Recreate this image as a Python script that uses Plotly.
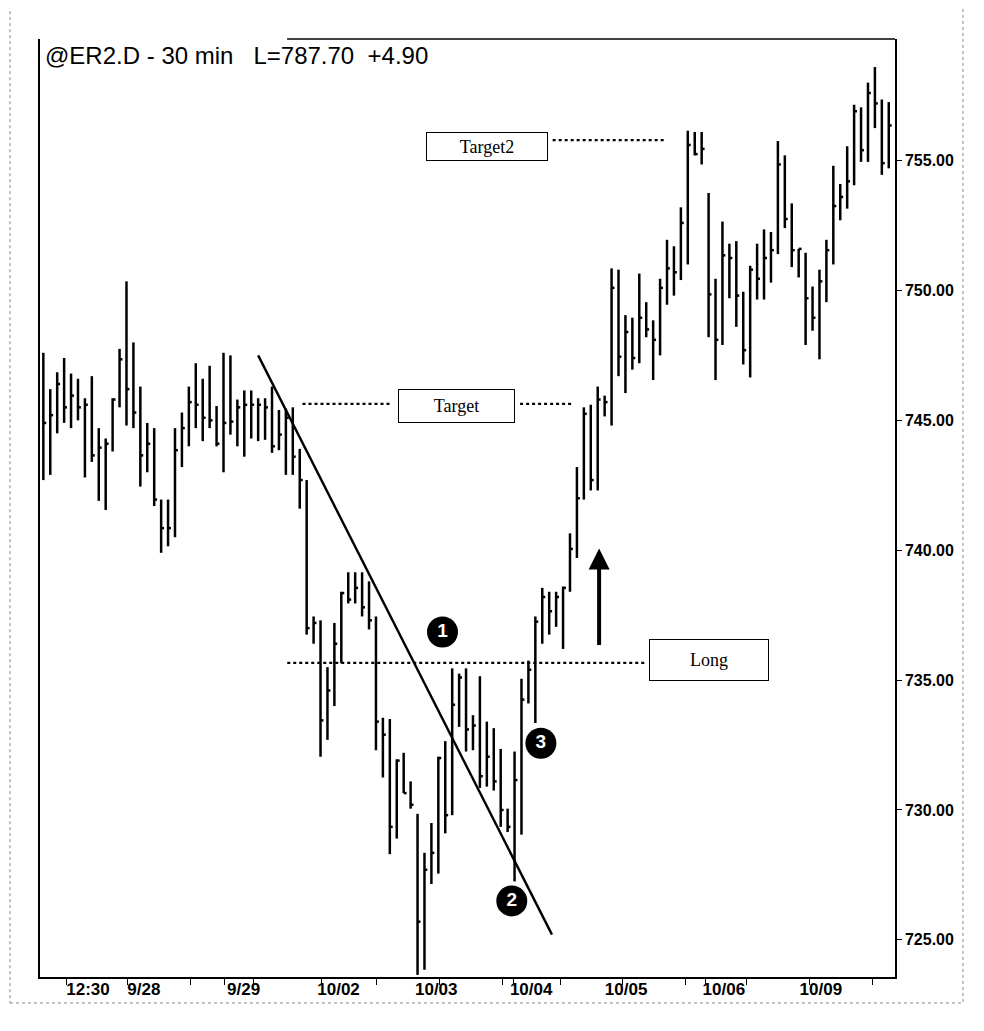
import plotly.graph_objects as go

# 30-min bars (index = bar number)
high = [747.6, 746.2, 746.85, 747.4, 746.8, 746.6, 745.85, 746.7, 744.7, 744.3,
        745.85, 747.75, 750.35, 748.0, 746.3, 744.9, 744.7, 741.95, 741.95, 744.7,
        745.3, 746.3, 747.2, 746.6, 747.1, 745.55, 747.6, 747.5, 745.8, 746.15,
        746.15, 745.85, 745.85, 746.3, 745.4, 745.45, 745.5, 743.9, 742.7, 737.45,
        737.3, 735.5, 737.2, 738.4, 739.15, 739.15, 739.15, 738.8, 737.45, 733.55,
        733.5, 731.95, 732.2, 731.1, 729.85, 728.35, 729.5, 732.05, 732.65, 735.45,
        735.25, 735.45, 733.65, 735.15, 733.4, 733.15, 732.35, 730.05, 732.25, 735.05,
        735.75, 737.45, 738.55, 738.4, 738.4, 738.6, 740.65, 743.2, 745.5, 745.6,
        746.3, 745.95, 750.85, 750.8, 749.05, 748.95, 750.65, 749.55, 748.85, 750.45,
        751.95, 751.7, 753.2, 756.15, 756.1, 756.1, 753.75, 750.45, 752.65, 751.8,
        751.9, 749.95, 750.95, 751.8, 752.35, 752.25, 755.75, 755.2, 753.35, 751.6,
        751.45, 750.15, 750.8, 751.95, 754.8, 754.1, 755.55, 757.15, 757.05, 758.0,
        758.6, 757.35, 757.25]
low = [742.7, 742.9, 744.5, 744.9, 744.7, 745.0, 742.8, 743.4, 741.9, 741.55,
       743.8, 745.5, 744.8, 744.7, 742.45, 743.0, 741.7, 739.9, 740.15, 740.5,
       743.2, 744.0, 744.7, 744.2, 744.7, 744.0, 743.0, 744.45, 744.0, 743.6,
       744.3, 744.2, 744.25, 743.75, 743.85, 742.9, 742.9, 741.6, 736.75, 736.4,
       732.05, 732.7, 734.0, 735.65, 737.95, 737.95, 737.45, 736.95, 732.3, 731.25,
       728.3, 728.9, 730.65, 730.05, 723.65, 723.85, 727.15, 727.55, 729.1, 729.8,
       733.2, 732.25, 732.3, 730.85, 730.9, 730.75, 729.35, 729.15, 727.25, 729.05,
       734.1, 733.35, 736.4, 736.75, 737.05, 736.2, 738.4, 739.7, 741.95, 742.3,
       742.3, 745.15, 744.8, 746.7, 746.05, 746.95, 747.2, 748.2, 746.55, 747.5,
       749.45, 749.8, 750.4, 751.0, 755.2, 754.85, 748.2, 746.55, 747.9, 749.7,
       748.6, 747.15, 746.65, 749.65, 749.65, 750.3, 751.4, 752.4, 750.9, 750.5,
       747.9, 748.45, 747.35, 749.55, 751.0, 752.7, 753.15, 754.05, 754.95, 754.95,
       756.25, 754.45, 754.7]
close = [744.9, 745.2, 746.4, 745.5, 745.95, 745.5, 745.6, 743.65, 743.95, 744.1,
         745.8, 747.35, 746.2, 745.3, 743.65, 744.1, 741.95, 740.85, 740.85, 743.85,
         744.7, 745.7, 745.6, 745.1, 745.0, 744.1, 744.9, 744.95, 745.5, 745.6,
         745.6, 745.6, 745.5, 744.0, 744.45, 745.1, 743.6, 742.7, 737.0, 737.2,
         733.45, 734.6, 736.4, 738.35, 738.1, 738.55, 737.8, 737.3, 733.4, 732.9,
         729.35, 731.9, 730.65, 730.2, 725.7, 727.7, 728.35, 732.0, 729.8, 734.05,
         735.1, 733.1, 733.25, 731.3, 732.05, 731.1, 730.0, 729.35, 731.15, 734.25,
         735.4, 737.25, 738.2, 737.65, 738.2, 738.55, 740.05, 742.0, 745.25, 742.7,
         745.8, 745.7, 750.1, 747.45, 748.4, 747.4, 748.95, 748.5, 748.1, 750.1,
         750.85, 750.7, 752.6, 755.6, 755.25, 755.45, 749.85, 748.1, 751.35, 751.25,
         749.8, 747.7, 750.8, 750.45, 751.25, 751.55, 754.85, 752.75, 751.55, 751.6,
         749.7, 748.95, 750.35, 751.55, 753.25, 753.6, 754.2, 756.9, 755.4, 757.6,
         757.2, 754.9, 756.35]

# x axis: tick marks and date labels (bar-index positions)
tick_marks = [3.3, 12.2, 21.3, 26.2, 30.3, 40.1, 48.1, 57.1, 66.2, 67.9,
              74.6, 83.6, 92.7, 95.5, 101.5, 110.6, 119.6]
date_pos = [6.45, 14.5, 28.9, 42.6, 56.7, 70.4, 84.1, 98.2, 112.2]
date_labels = ["12:30", "9/28", "9/29", "10/02", "10/03", "10/04", "10/05", "10/06", "10/09"]
price_ticks = [725, 730, 735, 740, 745, 750, 755]

# chart markup
trend_x = [31.0, 73.4]
trend_y = [747.5, 725.2]
level_long = 735.66
level_target = 745.63
level_target2 = 755.79
circle_x = [57.6, 67.6, 71.8]
circle_y = [736.85, 726.5, 732.57]
circle_txt = ["1", "2", "3"]

# build HLC bar path: vertical high-low line + close tick to the right
px, py = [], []
for i in range(len(high)):
  px += [i, i, None, i, i + 0.42, None]
  py += [low[i], high[i], None, close[i], close[i], None]

fig = go.Figure()
fig.add_trace(go.Scatter(x=px, y=py, mode="lines", line=dict(color="black", width=2.5),
                         hoverinfo="skip", showlegend=False))
fig.add_trace(go.Scatter(x=trend_x, y=trend_y, mode="lines", line=dict(color="black", width=2.4),
                         showlegend=False))
fig.add_trace(go.Scatter(x=circle_x, y=circle_y, mode="markers+text", text=circle_txt,
                         textposition="middle center",
                         textfont=dict(family="Arial", size=19, color="white", weight="bold"),
                         marker=dict(size=31, color="black"), showlegend=False))
# dummy trace on the label axis
fig.add_trace(go.Scatter(x=[0], y=[740], xaxis="x2", mode="markers",
                         marker=dict(opacity=0), showlegend=False, hoverinfo="skip"))

dotted = dict(color="black", width=2.3, dash="dot")
fig.add_shape(type="line", x0=35.2, x1=86.9, y0=level_long, y1=level_long, line=dotted)
fig.add_shape(type="line", x0=37.4, x1=50.3, y0=level_target, y1=level_target, line=dotted)
fig.add_shape(type="line", x0=68.8, x1=76.4, y0=level_target, y1=level_target, line=dotted)
fig.add_shape(type="line", x0=73.5, x1=89.7, y0=level_target2, y1=level_target2, line=dotted)

box = dict(showarrow=False, bgcolor="white", bordercolor="black", borderwidth=1,
           font=dict(family="Liberation Serif", size=18, color="black"))
fig.add_annotation(x=64.0, y=755.54, text="Target2", width=118, height=25, **box)
fig.add_annotation(x=59.6, y=745.55, text="Target", width=113, height=30, **box)
fig.add_annotation(x=96.1, y=735.77, text="Long", width=116, height=38, **box)

fig.add_annotation(x=80.2, y=740.07, ax=80.2, ay=736.29, axref="x", ayref="y",
                   text="", showarrow=True, arrowhead=2, arrowwidth=4, arrowsize=1.05,
                   arrowcolor="black")

fig.add_annotation(xref="paper", yref="paper", x=0.003, y=0.982, xanchor="left", yanchor="middle",
                   text="@ER2.D - 30 min   L=787.70  +4.90", showarrow=False,
                   font=dict(family="Arial", size=24, color="black"))

# frame pieces
fig.add_shape(type="line", xref="paper", yref="paper", x0=0.289, x1=1, y0=1, y1=1,
              line=dict(color="black", width=1.5))
fig.add_shape(type="rect", xref="paper", yref="paper", x0=-0.0351, x1=1.0795, y0=-0.0277, y1=1.0362,
              line=dict(color="#888888", width=1, dash="dot"))

fig.update_layout(
  width=976, height=1023, autosize=False,
  margin=dict(l=32, r=89, t=31, b=54),
  paper_bgcolor="white", plot_bgcolor="white",
  xaxis=dict(range=[-0.48, 122.9], showgrid=False, zeroline=False, showline=True,
             linecolor="black", linewidth=1.5, ticks="outside", tickvals=tick_marks,
             ticklen=6, tickcolor="black", showticklabels=False),
  xaxis2=dict(overlaying="x", matches="x", anchor="y", side="bottom", showgrid=False,
              zeroline=False, showline=False, ticks="", tickvals=date_pos, ticktext=date_labels,
              tickfont=dict(family="Liberation Sans Narrow, Arial Narrow, Arial", size=17,
                            color="black", weight="bold")),
  yaxis=dict(range=[723.57, 759.68], side="right", showgrid=False, zeroline=False,
             showline=True, mirror=True, linecolor="black", linewidth=1.5,
             ticks="outside", ticklen=5, tickcolor="black", tickvals=price_ticks,
             tickformat=".2f",
             tickfont=dict(family="Arial", size=16, color="black", weight="bold")),
)

fig.write_html("out.html")
